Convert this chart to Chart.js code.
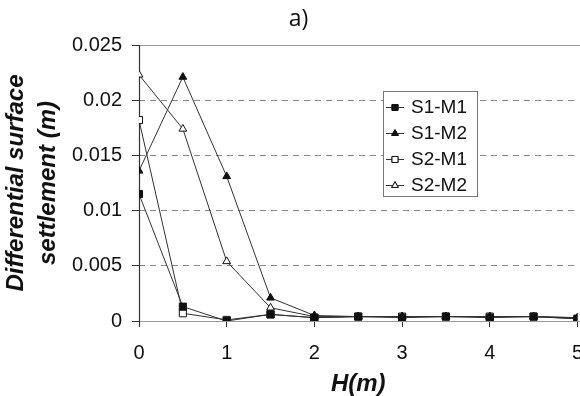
<!DOCTYPE html>
<html><head><meta charset="utf-8">
<script src="https://cdn.jsdelivr.net/npm/chart.js@4/dist/chart.umd.min.js"></script>
<style>html,body{margin:0;padding:0;background:#fff;overflow:hidden;width:580px;height:396px}
#wrap{width:597px;height:396px}</style></head>
<body><div id="wrap"><canvas id="c" width="597" height="396"></canvas></div>
<script>
const hValues = [0, 0.5, 1, 1.5, 2, 2.5, 3, 3.5, 4, 4.5, 5];
const s1m1 = [0.0115, 0.0013, 0.0000, 0.0006, 0.0003, 0.0004, 0.0003, 0.0004, 0.0003, 0.0004, 0.0002];
const s1m2 = [0.0136, 0.0221, 0.0131, 0.0021, 0.0005, 0.0004, 0.0004, 0.0004, 0.0004, 0.0004, 0.0003];
const s2m1 = [0.0182, 0.0007, 0.0001, 0.0006, 0.0003, 0.0004, 0.0004, 0.0004, 0.0004, 0.0004, 0.0002];
const s2m2 = [0.0223, 0.0174, 0.0054, 0.0012, 0.0004, 0.0004, 0.0004, 0.0004, 0.0004, 0.0004, 0.0003];
const seriesLabels = ['S1-M1', 'S1-M2', 'S2-M1', 'S2-M2'];
const yTicks = [0, 0.005, 0.01, 0.015, 0.02, 0.025];
const xTicks = [0, 1, 2, 3, 4, 5];

const pts = arr => arr.map((v, i) => ({x: hValues[i], y: v}));
const lineCol = '#333';
const FONT = '"Liberation Sans", Arial, sans-serif';
function ds(label, arr, style, filled, r) {
  return {label, data: pts(arr), borderColor: lineCol, borderWidth: 1,
    pointStyle: style, pointRadius: r, pointHoverRadius: r,
    pointBackgroundColor: filled ? '#111' : '#fff', pointBorderColor: '#111', pointBorderWidth: 1,
    tension: 0, fill: false};
}

const frame = {
  id: 'frame',
  beforeDatasetsDraw(chart) {
    const {ctx, chartArea: a, scales: {y}} = chart;
    ctx.save();
    ctx.strokeStyle = '#999'; ctx.lineWidth = 1.2;
    [0.025, 0].forEach(v => {
      const py = Math.round(y.getPixelForValue(v)) + 0.5;
      ctx.beginPath(); ctx.moveTo(a.left, py); ctx.lineTo(a.right + 20, py); ctx.stroke();
    });
    ctx.strokeStyle = '#333';
    ctx.beginPath(); ctx.moveTo(Math.round(a.left) + 0.5, a.top); ctx.lineTo(Math.round(a.left) + 0.5, a.bottom + 6); ctx.stroke();
    ctx.restore();
  },
  afterDraw(chart) {
    const {ctx} = chart;
    const bx = 383, by = 91, bw = 94, bh = 105;
    ctx.save();
    ctx.fillStyle = '#fff'; ctx.fillRect(bx, by, bw, bh);
    ctx.strokeStyle = '#777'; ctx.lineWidth = 1;
    ctx.strokeRect(bx + 0.5, by + 0.5, bw, bh);
    chart.data.datasets.forEach((d, i) => {
      const cy = by + 16 + i * 26;
      ctx.strokeStyle = lineCol; ctx.lineWidth = 1;
      ctx.beginPath(); ctx.moveTo(bx + 3, cy + 0.5); ctx.lineTo(bx + 21, cy + 0.5); ctx.stroke();
      Chart.helpers.drawPoint(ctx, {pointStyle: d.pointStyle, radius: d.pointRadius * 0.85, borderWidth: 1}, bx + 12, cy + 0.5);
      ctx.fillStyle = d.pointBackgroundColor; ctx.strokeStyle = '#111';
      ctx.fill(); ctx.stroke();
      ctx.fillStyle = '#111';
      ctx.font = '19px ' + FONT;
      ctx.textBaseline = 'middle'; ctx.textAlign = 'left';
      ctx.fillText(d.label, bx + 28, cy + 1);
    });
    ctx.restore();
  }
};

new Chart(document.getElementById('c'), {
  type: 'line',
  data: {datasets: [
    ds(seriesLabels[0], s1m1, 'rect', true, 5),
    ds(seriesLabels[1], s1m2, 'triangle', true, 4.5),
    ds(seriesLabels[2], s2m1, 'rect', false, 5),
    ds(seriesLabels[3], s2m2, 'triangle', false, 4.5)
  ]},
  options: {
    responsive: false, animation: false, devicePixelRatio: 1,
    layout: {padding: {left: 0, right: 0, top: 0, bottom: 0}},
    plugins: {
      legend: {display: false}, tooltip: {enabled: false},
      title: {display: true, text: 'a)', color: '#111',
        font: {family: '"Open Sans", sans-serif', size: 23, weight: 'normal', lineHeight: 1.2},
        padding: {top: 6, bottom: 11.4}}
    },
    scales: {
      x: {type: 'linear', min: 0, max: 5,
        afterBuildTicks: s => { s.ticks = xTicks.map(v => ({value: v})); },
        afterFit: s => { s.height = 75; },
        grid: {drawOnChartArea: false, drawTicks: true, tickLength: 6, tickColor: '#333', color: '#333'},
        border: {display: false},
        ticks: {padding: 14, color: '#111', font: {family: FONT, size: 20}, maxRotation: 0},
        title: {display: true, text: 'H(m)', color: '#111', padding: {top: 0, bottom: 0},
          font: {family: FONT, size: 24, weight: 'bold', style: 'italic', lineHeight: 1.0}}
      },
      y: {min: 0, max: 0.025,
        afterBuildTicks: s => { s.ticks = yTicks.map(v => ({value: v})); },
        afterFit: s => { s.width = 139; },
        grid: {color: c => (c.tick && (c.tick.value === 0 || c.tick.value === 0.025)) ? 'rgba(0,0,0,0)' : '#888',
          tickColor: '#333', tickLength: 7, lineWidth: 1},
        border: {display: false, dash: [6, 5]},
        ticks: {padding: 10, color: '#111', font: {family: FONT, size: 20},
          callback: v => String(v)},
        title: {display: true, text: ['Differential surface', 'settlement (m)'], color: '#111', padding: {top: 0, bottom: 0},
          font: {family: FONT, size: 24, weight: 'bold', style: 'italic', lineHeight: 1.333}}
      }
    }
  },
  plugins: [frame]
});
</script></body></html>
